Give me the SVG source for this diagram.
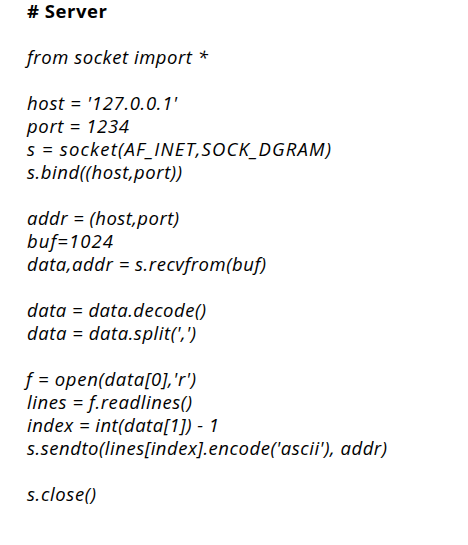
<svg xmlns="http://www.w3.org/2000/svg" width="468" height="545" viewBox="0 0 468 545">
<style>
text{font-family:"Open Sans","Noto Sans","DejaVu Sans",sans-serif;font-size:18.5px;fill:#000;font-style:italic;white-space:pre}
.h{font-style:normal;font-weight:bold}
</style>
<rect width="468" height="545" fill="#fff"/>
<g id="code">
<text class="h" x="27" y="18" textLength="80" lengthAdjust="spacing">#&#160;Server</text>
<text x="27" y="64" textLength="181" lengthAdjust="spacing">from socket import *</text>
<text x="27" y="110" textLength="150" lengthAdjust="spacing">host = '127.0.0.1'</text>
<text x="27" y="133" textLength="102" lengthAdjust="spacing">port = 1234</text>
<text x="27" y="156" textLength="304" lengthAdjust="spacing">s = socket(AF_INET,SOCK_DGRAM)</text>
<text x="27" y="179" textLength="155" lengthAdjust="spacing">s.bind((host,port))</text>
<text x="27" y="225" textLength="152" lengthAdjust="spacing">addr = (host,port)</text>
<text x="27" y="248" textLength="86" lengthAdjust="spacing">buf=1024</text>
<text x="27" y="271" textLength="239" lengthAdjust="spacing">data,addr = s.recvfrom(buf)</text>
<text x="27" y="317" textLength="179" lengthAdjust="spacing">data = data.decode()</text>
<text x="27" y="340" textLength="169" lengthAdjust="spacing">data = data.split(',')</text>
<text x="26" y="386" textLength="170" lengthAdjust="spacing">f = open(data[0],'r')</text>
<text x="27" y="409" textLength="165" lengthAdjust="spacing">lines = f.readlines()</text>
<text x="27" y="432" textLength="192" lengthAdjust="spacing">index = int(data[1]) - 1</text>
<text x="27" y="455" textLength="360" lengthAdjust="spacing">s.sendto(lines[index].encode('ascii'), addr)</text>
<text x="27" y="501" textLength="69" lengthAdjust="spacing">s.close()</text>
</g>
</svg>
